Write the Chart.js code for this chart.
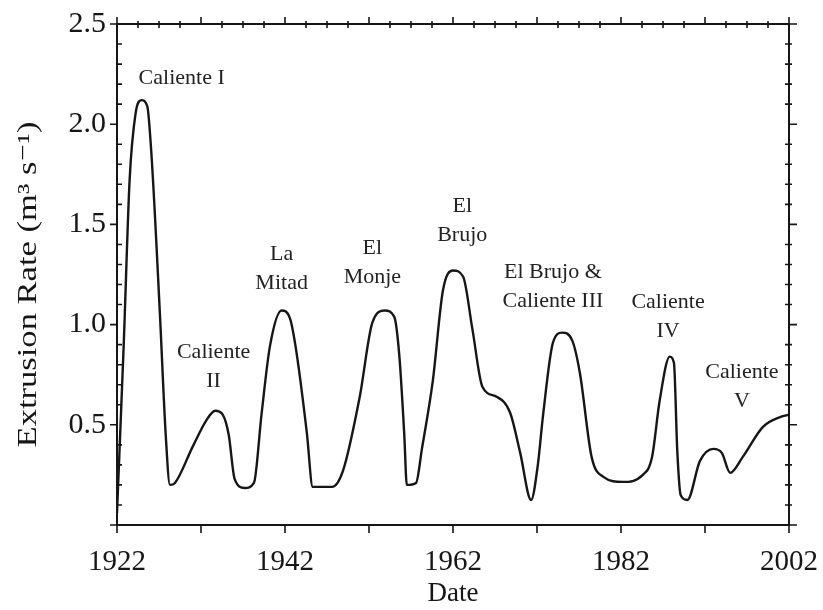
<!DOCTYPE html>
<html>
<head>
<meta charset="utf-8">
<script src="https://cdn.jsdelivr.net/npm/chart.js@4"></script>
<style>
  html, body { margin: 0; padding: 0; background: #fff; }
  #wrap { width: 823px; height: 610px; }
</style>
</head>
<body>
<div id="wrap"><canvas id="rate-chart"></canvas></div>
<script>
// Extrusion rate history
const years = [
  1922.0, 1922.8, 1923.5, 1924.2, 1924.9, 1925.6, 1926.1, 1927.1, 1927.8, 1928.3,
  1928.9, 1931.0, 1932.6, 1933.7, 1934.6, 1935.3, 1936.0, 1937.2, 1938.3, 1939.2,
  1940.2, 1941.6, 1942.6, 1943.3, 1944.6, 1945.3, 1947.6, 1948.9, 1950.9, 1952.4,
  1953.9, 1955.0, 1955.6, 1956.2, 1956.5, 1957.6, 1958.3, 1959.6, 1960.8, 1962.0,
  1963.2, 1964.3, 1965.5, 1967.2, 1968.8, 1970.0, 1971.3, 1972.1, 1972.7, 1973.9,
  1975.0, 1976.2, 1977.1, 1978.5, 1979.9, 1982.2, 1984.6, 1985.7, 1986.6, 1987.8,
  1988.3, 1988.7, 1989.1, 1989.9, 1991.4, 1993.0, 1994.0, 1995.0, 1996.5, 1998.9,
  2001.0, 2002.0
];
const rates = [
  0.06, 0.90, 1.72, 2.05, 2.12, 2.09, 1.85, 1.06, 0.45, 0.20,
  0.21, 0.39, 0.52, 0.57, 0.55, 0.45, 0.23, 0.185, 0.21, 0.55,
  0.89, 1.07, 1.03, 0.88, 0.46, 0.19, 0.19, 0.27, 0.64, 1.01,
  1.07, 1.04, 0.85, 0.45, 0.20, 0.21, 0.38, 0.72, 1.17, 1.27,
  1.24, 0.98, 0.69, 0.64, 0.56, 0.36, 0.125, 0.30, 0.54, 0.91,
  0.96, 0.92, 0.76, 0.34, 0.24, 0.215, 0.25, 0.34, 0.62, 0.84,
  0.81, 0.37, 0.15, 0.125, 0.32, 0.38, 0.36, 0.26, 0.34, 0.49,
  0.54, 0.55
];

// eruptive episodes: name lines, anchor year, anchor rate
const eventNames = [
  ['Caliente I'], ['Caliente', 'II'], ['La', 'Mitad'], ['El', 'Monje'],
  ['El', 'Brujo'], ['El Brujo &', 'Caliente III'], ['Caliente', 'IV'], ['Caliente', 'V']
];
const eventYears = [1929.7, 1933.5, 1941.6, 1952.4, 1963.1, 1973.9, 1987.6, 1996.4];
const eventRates = [2.23, 0.86, 1.35, 1.38, 1.59, 1.26, 1.11, 0.76];

const yearLabels = [1922, 1942, 1962, 1982, 2002];
const rateLabels = [0.5, 1.0, 1.5, 2.0, 2.5];

const SERIF = "'Liberation Serif', 'DejaVu Serif', serif";
const INK = '#161616';

const near = (a, b) => Math.abs(a - b) < 1e-6;
const isMajorRate = v => rateLabels.some(r => near(r, v)) || near(v, 0);

// frame with inward/outward tick marks on all four sides
const framePlugin = {
  id: 'frame',
  afterDraw(chart) {
    const { ctx, chartArea: a, scales: { x, y } } = chart;
    ctx.save();
    ctx.strokeStyle = INK;
    ctx.lineWidth = 2;
    ctx.strokeRect(a.left, a.top, a.right - a.left, a.bottom - a.top);

    ctx.lineWidth = 1.6;
    ctx.beginPath();
    y.ticks.forEach(t => {
      const py = y.getPixelForValue(t.value);
      if (isMajorRate(t.value)) {
        ctx.moveTo(a.left - 7, py); ctx.lineTo(a.left, py);
        ctx.moveTo(a.right, py); ctx.lineTo(a.right + 8, py);
      } else {
        ctx.moveTo(a.left, py); ctx.lineTo(a.left + 5, py);
        ctx.moveTo(a.right - 4, py); ctx.lineTo(a.right + 3, py);
      }
    });
    for (let v = x.min; v <= x.max + 1e-6; v += 2.5) {
      const px = x.getPixelForValue(v);
      if (near((v - x.min) % 10, 0)) {
        ctx.moveTo(px, a.top - 7); ctx.lineTo(px, a.top);
        ctx.moveTo(px, a.bottom); ctx.lineTo(px, a.bottom + 8);
      } else {
        ctx.moveTo(px, a.top - 3); ctx.lineTo(px, a.top + 4);
      }
    }
    ctx.stroke();
    ctx.restore();
  }
};

// y-axis caption, set a little wider along its run
const rateTitle = {
  id: 'rateTitle',
  afterDraw(chart) {
    const { ctx, chartArea: a } = chart;
    ctx.save();
    ctx.translate(29, (a.top + a.bottom) / 2 + 10);
    ctx.rotate(-Math.PI / 2);
    ctx.scale(1.28, 1);
    ctx.fillStyle = INK;
    ctx.font = `27px ${SERIF}`;
    ctx.textAlign = 'center';
    ctx.textBaseline = 'middle';
    ctx.fillText('Extrusion Rate (m³ s⁻¹)', 0, 0);
    ctx.restore();
  }
};

// episode names above each pulse
const eventLabels = {
  id: 'eventLabels',
  afterDatasetsDraw(chart) {
    const { ctx, scales: { x, y } } = chart;
    ctx.save();
    ctx.fillStyle = '#222';
    ctx.font = `22px ${SERIF}`;
    ctx.textAlign = 'center';
    ctx.textBaseline = 'middle';
    eventNames.forEach((lines, i) => {
      const px = x.getPixelForValue(eventYears[i]);
      const py = y.getPixelForValue(eventRates[i]);
      lines.forEach((txt, j) => ctx.fillText(txt, px, py + j * 29));
    });
    ctx.restore();
  }
};

function initRateChart() {
  const ctx = document.getElementById('rate-chart');
  new Chart(ctx, {
    type: 'line',
    data: {
      datasets: [{
        data: years.map((yr, i) => ({ x: yr, y: rates[i] })),
        borderColor: INK,
        borderWidth: 2.4,
        pointRadius: 0,
        fill: false,
        cubicInterpolationMode: 'monotone'
      }]
    },
    options: {
      responsive: true,
      maintainAspectRatio: false,
      animation: false,
      layout: { padding: { left: 0, right: 34, top: 24, bottom: 0 } },
      plugins: { legend: { display: false }, tooltip: { enabled: false } },
      scales: {
        x: {
          type: 'linear',
          min: 1922,
          max: 2002,
          grid: { display: false },
          border: { display: false },
          ticks: {
            stepSize: 10,
            autoSkip: false,
            maxRotation: 0,
            padding: 12,
            color: INK,
            font: { family: SERIF, size: 29 },
            callback: v => yearLabels.includes(v) ? String(v) : ''
          },
          title: {
            display: true,
            text: 'Date',
            color: INK,
            font: { family: SERIF, size: 27 },
            padding: { top: -3, bottom: 0 }
          },
          afterFit: s => { s.height = 85; s.paddingLeft = 0; s.paddingRight = 0; }
        },
        y: {
          min: 0,
          max: 2.5,
          grid: { display: false },
          border: { display: false },
          ticks: {
            stepSize: 0.1,
            autoSkip: false,
            padding: 3,
            color: INK,
            font: { family: SERIF, size: 30 },
            callback: v => rateLabels.some(r => near(r, v)) ? v.toFixed(1) : ''
          },
          afterFit: s => { s.width = 117; s.paddingTop = 0; s.paddingBottom = 0; }
        }
      }
    },
    plugins: [framePlugin, rateTitle, eventLabels]
  });
}

window.addEventListener('DOMContentLoaded', initRateChart);
</script>
</body>
</html>
